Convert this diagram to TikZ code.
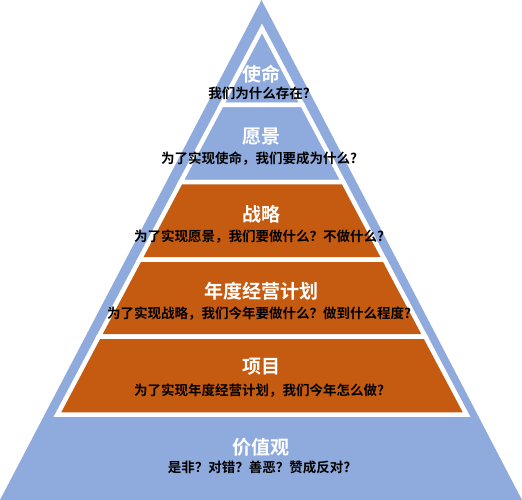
\documentclass[tikz,border=0pt]{standalone}
\usepackage{fontspec}
\setmainfont{Noto Sans CJK SC}[BoldFont={Noto Sans CJK SC Bold}]
\definecolor{bluec}{HTML}{8FAADC}
\definecolor{orangec}{HTML}{C55A11}
\tikzset{
  ttl/.style={font=\bfseries\fontsize{19}{19}\selectfont, text=white, inner sep=0pt},
  sub/.style={font=\bfseries\fontsize{13.5}{13.5}\selectfont, text=black, inner sep=0pt},
  bandline/.style={draw=white, line width=4.5pt, line join=miter}
}
\newcommand{\hw}[1]{(#1-28.5)*0.53}
\newcommand{\myband}[3]{%
  \filldraw[bandline, fill=#3] ({262-\hw{#1}},#1) -- ({262+\hw{#1}},#1) -- ({262+\hw{#2}},#2) -- ({262-\hw{#2}},#2) -- cycle;}
\begin{document}
\begin{tikzpicture}[x=1pt,y=-1pt]
\useasboundingbox (0,0) rectangle (522,500);
\fill[bluec] (261.5,0) -- (522,500) -- (0,500) -- cycle;
\filldraw[bandline, fill=bluec] (262,28.5) -- ({262+\hw{105}},105) -- ({262-\hw{105}},105) -- cycle;
\myband{105}{182}{bluec}
\myband{182}{259.5}{orangec}
\myband{259.5}{336.5}{orangec}
\myband{336.5}{414.5}{orangec}
\node[ttl] (t1) at (261,74) {使命};
\node[sub] (s1) at (259,93.5) {我们为什么存在?};
\node[ttl] (t2) at (261,137) {愿景};
\node[sub] (s2) at (259,159) {为了实现使命，我们要成为什么?};
\node[ttl] (t3) at (261,214) {战略};
\node[sub] (s3) at (259,236.5) {为了实现愿景，我们要做什么？不做什么?};
\node[ttl] (t4) at (261,291) {年度经营计划};
\node[sub] (s4) at (259,314) {为了实现战略，我们今年要做什么？做到什么程度?};
\node[ttl] (t5) at (261,367) {项目};
\node[sub] (s5) at (259,391) {为了实现年度经营计划，我们今年怎么做?};
\node[ttl] (t6) at (261,447) {价值观};
\node[sub] (s6) at (259,467) {是非？对错？善恶？赞成反对?};
\end{tikzpicture}
\end{document}
